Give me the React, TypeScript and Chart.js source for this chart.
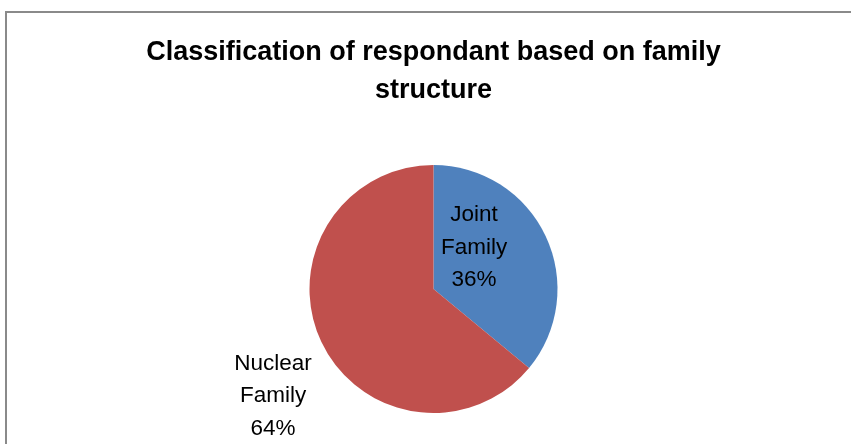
import React, { useEffect, useRef } from "react";
import { Chart, registerables } from "chart.js";

Chart.register(...registerables);

const titleLines = ["Classification of respondant based on family", "structure"];
const categories = ["Joint Family", "Nuclear Family"];
const values = [36, 64];
const colors = ["#4F81BD", "#C0504D"];
// label anchor offsets relative to pie centre, in units of radius
const labelOffsets = [
  [0.327, -0.334],
  [-1.294, 0.865],
];

const FONT = "'Liberation Sans', Arial, sans-serif";

const borderPlugin = {
  id: "frameBorder",
  beforeDraw(chart: any) {
    const ctx = chart.ctx;
    ctx.save();
    ctx.fillStyle = "#ffffff";
    ctx.fillRect(0, 0, chart.width, chart.height);
    ctx.strokeStyle = "#8a8a8a";
    ctx.lineWidth = 2;
    ctx.beginPath();
    ctx.moveTo(6, chart.height + 10);
    ctx.lineTo(6, 12);
    ctx.lineTo(chart.width + 10, 12);
    ctx.stroke();
    ctx.restore();
  },
};

const labelPlugin = {
  id: "sliceLabels",
  afterDatasetsDraw(chart: any) {
    const ctx = chart.ctx;
    const meta = chart.getDatasetMeta(0);
    const data = chart.data.datasets[0].data as number[];
    const total = data.reduce((a, b) => a + b, 0);
    ctx.save();
    ctx.font = `22.5px ${FONT}`;
    ctx.fillStyle = "#000000";
    ctx.textAlign = "center";
    ctx.textBaseline = "middle";
    meta.data.forEach((arc: any, i: number) => {
      const r = arc.outerRadius;
      const cx = arc.x + labelOffsets[i][0] * r;
      const cy = arc.y + labelOffsets[i][1] * r;
      const words = String(chart.data.labels[i]).split(" ");
      const pct = Math.round((data[i] / total) * 100) + "%";
      const lines = [...words, pct];
      const lh = 32.5;
      const start = cy - ((lines.length - 1) * lh) / 2;
      lines.forEach((t, k) => ctx.fillText(t, cx, start + k * lh));
    });
    ctx.restore();
  },
};

export default function App() {
  const ref = useRef<HTMLCanvasElement>(null);
  useEffect(() => {
    if (!ref.current) return;
    const chart = new Chart(ref.current, {
      type: "pie",
      data: {
        labels: categories,
        datasets: [
          {
            data: values,
            backgroundColor: colors,
            borderWidth: 0,
          },
        ],
      },
      options: {
        animation: false,
        responsive: false,
        maintainAspectRatio: false,
        layout: { padding: { left: 16, right: 0, top: 0, bottom: 31 } },
        plugins: {
          legend: { display: false },
          tooltip: { enabled: false },
          title: {
            display: true,
            text: titleLines,
            color: "#000000",
            font: { family: FONT, size: 27, weight: "bold", lineHeight: 38 / 27 },
            padding: { top: 33.5, bottom: 55.5 },
          },
        },
      },
      plugins: [borderPlugin, labelPlugin],
    });
    return () => chart.destroy();
  }, []);
  return (
    <div style={{ position: "fixed", left: 0, top: 0, width: 851, height: 444, background: "#fff" }}>
      <canvas ref={ref} width={851} height={444} style={{ display: "block" }} />
    </div>
  );
}
